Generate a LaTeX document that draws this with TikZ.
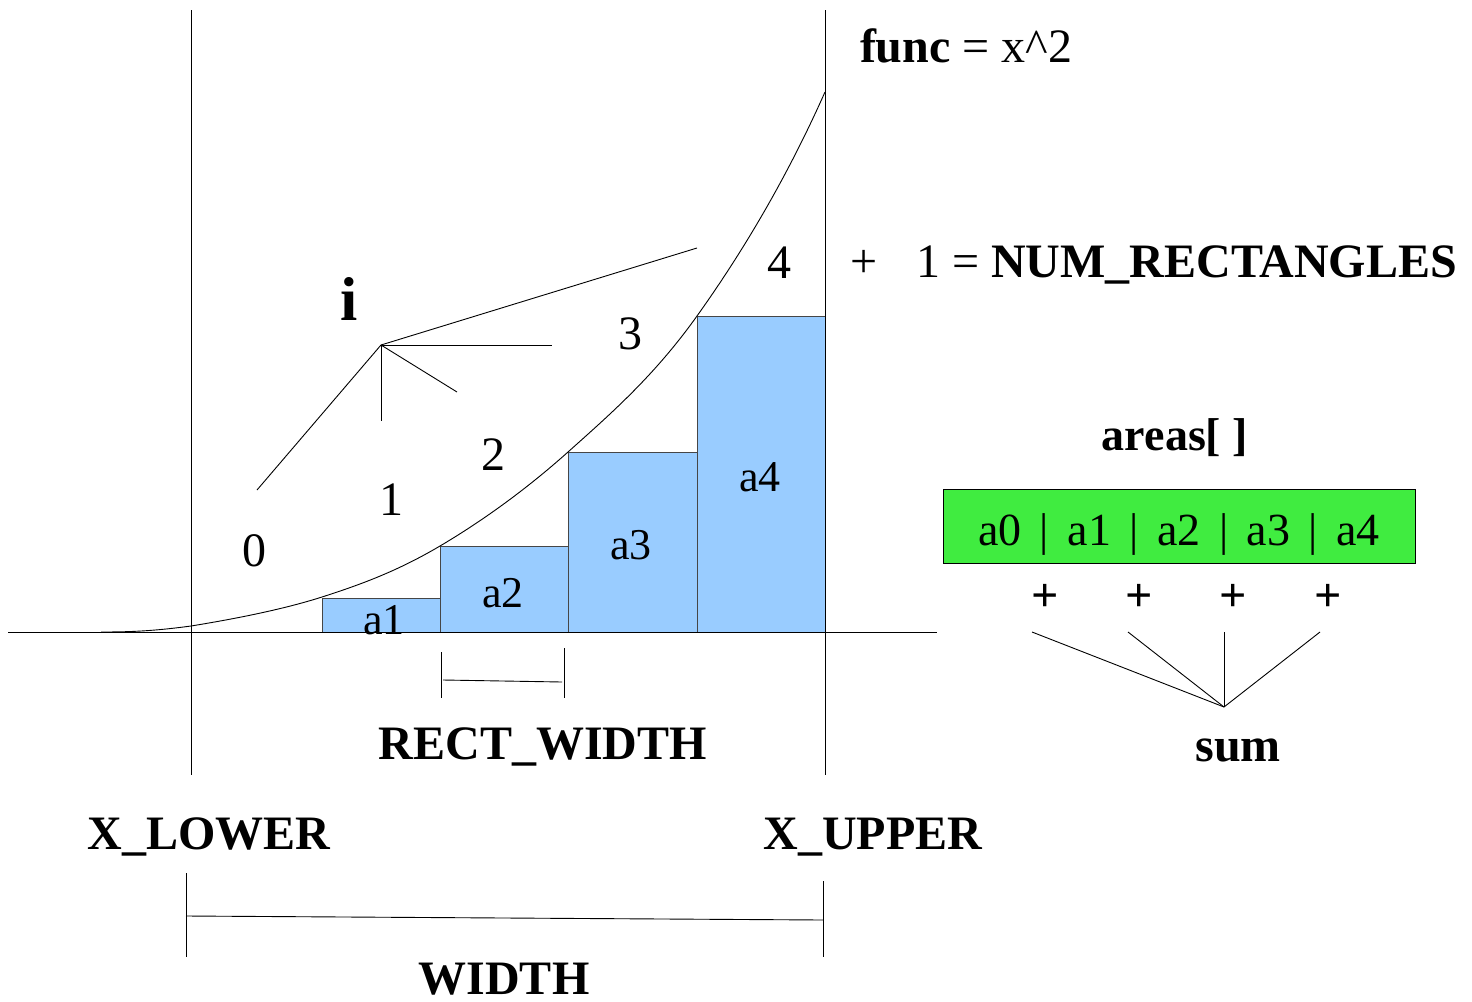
\documentclass[tikz,border=0pt]{standalone}
\usepackage{fontspec}
\setmainfont{Liberation Serif}
\definecolor{rectblue}{RGB}{153,204,255}
\definecolor{boxgreen}{RGB}{64,236,64}
\definecolor{rectedge}{RGB}{70,70,70}
\begin{document}
\begin{tikzpicture}[x=1pt,y=-1pt,
  ln/.style={line width=0.9pt,black},
  rectst/.style={fill=rectblue,draw=rectedge,line width=1pt},
  txt/.style={inner sep=0pt,outer sep=0pt,anchor=base,font=\fontsize{48}{56}\selectfont},
  btxt/.style={txt,font=\fontsize{48}{56}\selectfont\bfseries},
  rtxt/.style={txt,font=\fontsize{44}{52}\selectfont}]
\useasboundingbox (0,0) rectangle (1472,1001);
% rectangles
\draw[rectst] (322,632) rectangle (440,598);
\draw[rectst] (440,632) rectangle (568,546);
\draw[rectst] (568,632) rectangle (697,452);
\draw[rectst] (697,632) rectangle (825,316);
\node[rtxt] (ta1) at (384,634) {a1};
\node[rtxt] (ta2) at (503,607) {a2};
\node[rtxt] (ta3) at (631,559) {a3};
\node[rtxt] (ta4) at (760,491) {a4};
% axes
\coordinate (axL) at (8,632);
\coordinate (axR) at (937,632);
\coordinate (vlT) at (191,10);
\coordinate (vlB) at (191,775);
\coordinate (vrT) at (825,10);
\coordinate (vrB) at (825,775);
\draw[ln] (axL) -- (axR);
\draw[ln] (vlT) -- (vlB);
\draw[ln] (vrT) -- (vrB);
% curve
\coordinate (c0) at (101,632);
\coordinate (c1) at (191,626);
\coordinate (c2) at (322,597);
\coordinate (c3) at (440,546);
\coordinate (c4) at (568,452);
\coordinate (c5) at (697,316);
\coordinate (c6) at (825,92);
\draw[ln] (c0) .. controls (131,632) and (154,631) .. (c1)
  .. controls (228,620) and (280.5,610.3) .. (c2)
  .. controls (363.5,583.7) and (399,570.2) .. (c3)
  .. controls (481,521.8) and (525.2,490.3) .. (c4)
  .. controls (610.8,413.7) and (654.2,376) .. (c5)
  .. controls (739.8,256) and (785,182) .. (c6);
% region indices
\node[txt] (n0) at (254,566) {0};
\node[txt] (n1) at (391,515) {1};
\node[txt] (n2) at (493,470) {2};
\node[txt] (n3) at (630,349) {3};
\node[txt] (n4) at (779,278) {4};
\node[btxt,font=\fontsize{62}{70}\selectfont\bfseries] (iLbl) at (349,320) {i};
\coordinate (hub) at (381,345);
\coordinate (h0) at (257,490);
\coordinate (h4) at (697,248);
\coordinate (h3) at (552,345);
\coordinate (h2) at (457,392);
\coordinate (h1) at (381,421);
\draw[ln] (hub) -- (h0);
\draw[ln] (hub) -- (h4);
\draw[ln] (hub) -- (h3);
\draw[ln] (hub) -- (h2);
\draw[ln] (hub) -- (h1);
% func
\node[txt,anchor=base west] (func) at (860,62) {\textbf{func} = x\^{}2};
\node[txt,anchor=base west,font=\fontsize{48}{56}\selectfont] (numr) at (850,277) {+\hspace{39pt}1 = \textbf{NUM\_RECTANGLES}};
% areas array
\node[btxt,font=\fontsize{46}{54}\selectfont\bfseries] (areas) at (1175,450) {areas[ ]};
\node[draw=black,line width=0.9pt,fill=boxgreen,minimum width=472pt,minimum height=74pt,inner sep=0pt,anchor=north west] (arr) at (943,489) {};
\node[txt,font=\fontsize{46}{54}\selectfont] (arrtxt) at (1179,545) {a0\hspace{18.5pt}|\hspace{18.5pt}a1\hspace{18.5pt}|\hspace{18.5pt}a2\hspace{18.5pt}|\hspace{18.5pt}a3\hspace{18.5pt}|\hspace{18.5pt}a4};
\node[btxt] (p1) at (1045,611) {+};
\node[btxt] (p2) at (1139,611) {+};
\node[btxt] (p3) at (1233,611) {+};
\node[btxt] (p4) at (1328,611) {+};
\coordinate (sumpt) at (1224,707);
\coordinate (s1) at (1032,632);
\coordinate (s2) at (1128,632);
\coordinate (s3) at (1224,632);
\coordinate (s4) at (1320,632);
\draw[ln] (sumpt) -- (s1);
\draw[ln] (sumpt) -- (s2);
\draw[ln] (sumpt) -- (s3);
\draw[ln] (sumpt) -- (s4);
\node[btxt] (sum) at (1238,761) {sum};
% rect width bracket
\coordinate (rwL1) at (441,652);
\coordinate (rwL2) at (441,698);
\coordinate (rwR1) at (564,648);
\coordinate (rwR2) at (564,698);
\coordinate (rwA) at (443,680);
\coordinate (rwB) at (562,682);
\draw[ln] (rwL1) -- (rwL2);
\draw[ln] (rwR1) -- (rwR2);
\draw[ln] (rwA) -- (rwB);
\node[btxt] (rw) at (543,759) {RECT\_WIDTH};
% bounds
\node[btxt] (xl) at (209,849) {X\_LOWER};
\node[btxt] (xu) at (873,849) {X\_UPPER};
\coordinate (wL1) at (186,873);
\coordinate (wL2) at (186,957);
\coordinate (wR1) at (823,881);
\coordinate (wR2) at (823,957);
\coordinate (wA) at (186,916);
\coordinate (wB) at (823,920);
\draw[ln] (wL1) -- (wL2);
\draw[ln] (wR1) -- (wR2);
\draw[ln] (wA) -- (wB);
\node[btxt] (w) at (504,994) {WIDTH};
\end{tikzpicture}
\end{document}
